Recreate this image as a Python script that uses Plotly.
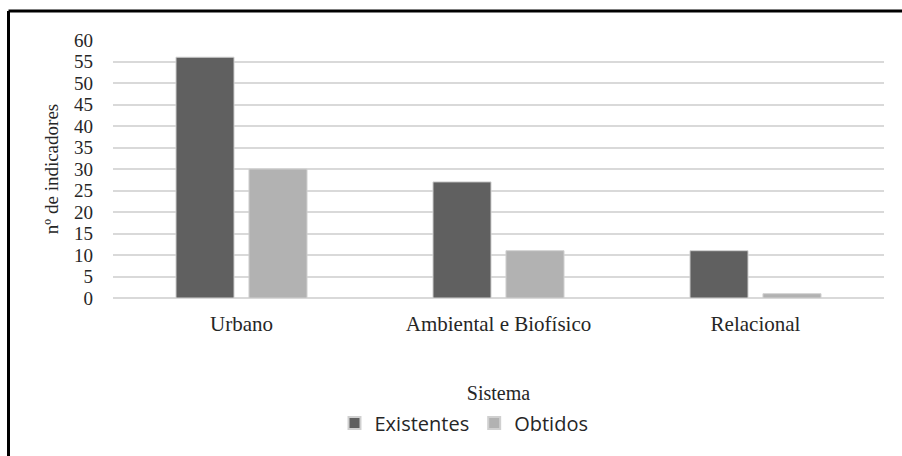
import plotly.graph_objects as go

categorias = ["Urbano", "Ambiental e Biofísico", "Relacional"]
existentes = [56, 27, 11]
obtidos = [30, 11, 1]
y_ticks = list(range(0, 61, 5))

SERIF = "Liberation Serif"
SANS = "Open Sans"
TXT = "#262626"

fig = go.Figure()
fig.add_trace(go.Bar(
    name="Existentes", x=categorias, y=existentes,
    marker=dict(color="#606060", line=dict(color="#d0d0d0", width=1)),
))
fig.add_trace(go.Bar(
    name="Obtidos", x=categorias, y=obtidos,
    marker=dict(color="#b2b2b2", line=dict(color="#d0d0d0", width=1)),
))

L, R, T, B = 113, 18, 40, 158
W, H = 902, 456
pw, ph = W - L - R, H - T - B

def px_x(px):
    return (px - L) / pw

def px_y(py):
    return (H - B - py) / ph

fig.update_layout(
    width=W, height=H,
    margin=dict(l=L, r=R, t=T, b=B, pad=0),
    paper_bgcolor="white", plot_bgcolor="white",
    barmode="group", bargap=0.432, bargroupgap=0.205,
    font=dict(family=SERIF, size=18, color=TXT),
    xaxis=dict(
        showgrid=False, showline=False, zeroline=False, ticks="",
        tickfont=dict(family=SERIF, size=21, color=TXT),
        ticklabelstandoff=11,
        title=dict(text="Sistema", font=dict(family=SERIF, size=20, color=TXT),
                   standoff=50),
    ),
    yaxis=dict(
        range=[0, 60], tickvals=y_ticks, ticktext=[str(v) for v in y_ticks],
        showgrid=True, gridcolor="#d9d9d9", gridwidth=2,
        zeroline=True, zerolinecolor="#d9d9d9", zerolinewidth=2,
        showline=False, ticks="",
        tickfont=dict(family=SERIF, size=19, color=TXT),
        ticklabelstandoff=19,
        title=dict(text="nº de indicadores", font=dict(family=SERIF, size=19, color=TXT),
                   standoff=10),
    ),
    legend=dict(
        orientation="h", x=px_x(464), xanchor="center", y=px_y(423), yanchor="middle",
        font=dict(family=SANS, size=20, color=TXT),
        itemsizing="constant", traceorder="normal",
        bgcolor="rgba(0,0,0,0)",
    ),
    shapes=[
        dict(type="line", xref="paper", yref="paper",
             x0=px_x(8.5), x1=px_x(910), y0=px_y(11), y1=px_y(11),
             line=dict(color="black", width=3)),
        dict(type="line", xref="paper", yref="paper",
             x0=px_x(8.5), x1=px_x(8.5), y0=px_y(11), y1=px_y(470),
             line=dict(color="black", width=3)),
    ],
)

fig.write_html("out.html")
